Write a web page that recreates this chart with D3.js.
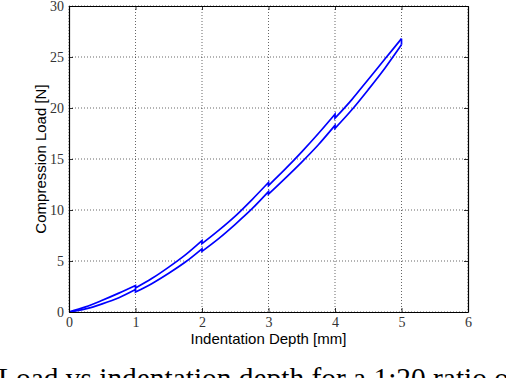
<!DOCTYPE html>
<html><head><meta charset="utf-8">
<script src="https://cdn.jsdelivr.net/npm/d3@7"></script>
<style>body{margin:0;background:#fff;overflow:hidden}svg{display:block}</style>
</head><body>
<svg id="c" width="506" height="378"></svg>
<script>
// Data; a repeated x marks a vertical relaxation step
const loadX = [0,0.25,0.5,0.75,1, 1,1.25,1.5,1.75,2, 2,2.25,2.5,2.75,3, 3,3.25,3.5,3.75,4, 4,4.25,4.5,4.75,5];
const loadY = [0,0.5,1.15,1.85,2.6, 2.35,3.3,4.4,5.6,7.0, 6.7,8.0,9.4,11.0,12.7, 12.4,14.0,15.7,17.5,19.4, 19.0,20.8,22.8,24.8,26.8];
const unloadX = [0,0.25,0.5,0.75,1, 1,1.25,1.5,1.75,2, 2,2.25,2.5,2.75,3, 3,3.25,3.5,3.75,4, 4,4.25,4.5,4.75,5];
const unloadY = [0,0.3,0.8,1.4,2.2, 1.95,2.8,3.8,4.9,6.2, 5.95,7.2,8.6,10.1,11.8, 11.55,13.1,14.7,16.4,18.3, 18.0,19.8,21.8,23.9,26.2];
const xTicks = [0,1,2,3,4,5,6];
const yTicks = [0,5,10,15,20,25,30];
const xLabel = "Indentation Depth [mm]";
const yLabel = "Compression Load [N]";
const caption = "Load vs indentation depth for a 1:20 ratio of";

const svg = d3.select("#c");
const L = 69, R = 468, T = 6, B = 312;
const x = d3.scaleLinear().domain([0,6]).range([L,R]);
const y = d3.scaleLinear().domain([0,30]).range([B,T]);

// grid
const g = svg.append("g");
g.selectAll(".gx").data(xTicks).join("line")
  .attr("x1", d=>x(d)).attr("x2", d=>x(d)).attr("y1", T).attr("y2", B)
  .attr("stroke", "#000").attr("stroke-width", 0.6).attr("stroke-dasharray", "1,2");
g.selectAll(".gy").data(yTicks).join("line")
  .attr("y1", d=>y(d)).attr("y2", d=>y(d)).attr("x1", L).attr("x2", R)
  .attr("stroke", "#000").attr("stroke-width", 0.6).attr("stroke-dasharray", "1,2");

// curves: split into smooth pieces at repeated x, joined by vertical steps
const smooth = d3.line().x(d=>x(d[0])).y(d=>y(d[1])).curve(d3.curveMonotoneX);
function pieces(xs, ys){
  const out = []; let cur = [];
  xs.forEach((v,i)=>{
    if (cur.length && v === cur[cur.length-1][0]) { out.push(cur); cur = []; }
    cur.push([v, ys[i]]);
  });
  if (cur.length) out.push(cur);
  return out;
}
function pathOf(xs, ys){
  return pieces(xs, ys).map((p,i)=>{
    const s = smooth(p);
    return i === 0 ? s : "L" + s.slice(1);
  }).join("");
}
const drawPath = d => svg.append("path").attr("d", d).attr("fill","none")
  .attr("stroke","#0000ff").attr("stroke-width",1.7).attr("stroke-linejoin","miter");
drawPath(pathOf(loadX, loadY));
drawPath(pathOf(unloadX, unloadY));
// turning point at maximum depth
drawPath(d3.line()([[x(loadX[loadX.length-1]), y(loadY[loadY.length-1])],
                    [x(unloadX[unloadX.length-1]), y(unloadY[unloadY.length-1])]]));

// axes with inward ticks
const tickFont = "'Liberation Serif', 'DejaVu Serif', serif";
const axB = svg.append("g").attr("transform",`translate(0,${B})`)
  .call(d3.axisBottom(x).tickValues(xTicks).tickSizeInner(-4).tickSizeOuter(0).tickPadding(5).tickFormat(d3.format("d")));
const axT = svg.append("g").attr("transform",`translate(0,${T})`)
  .call(d3.axisTop(x).tickValues(xTicks).tickSizeInner(-4).tickSizeOuter(0).tickFormat(""));
const axL = svg.append("g").attr("transform",`translate(${L},0)`)
  .call(d3.axisLeft(y).tickValues(yTicks).tickSizeInner(-4).tickSizeOuter(0).tickPadding(5).tickFormat(d3.format("d")));
const axR = svg.append("g").attr("transform",`translate(${R},0)`)
  .call(d3.axisRight(y).tickValues(yTicks).tickSizeInner(-4).tickSizeOuter(0).tickFormat(""));
[axB,axT,axL,axR].forEach(a=>{
  a.select(".domain").attr("stroke","#000").attr("stroke-width",1.2);
  a.selectAll(".tick line").attr("stroke","#000").attr("stroke-width",0.8);
  a.selectAll("text").attr("font-family",tickFont).attr("font-size",14).attr("fill","#333");
});

// labels
const sans = "'Liberation Sans', Arial, sans-serif";
svg.append("text").attr("x",(L+R)/2).attr("y",344).attr("text-anchor","middle")
  .attr("font-family",sans).attr("font-size",15).attr("fill","#000").text(xLabel);
svg.append("text").attr("transform",`translate(46,${(T+B)/2}) rotate(-90)`).attr("text-anchor","middle")
  .attr("font-family",sans).attr("font-size",15).attr("fill","#000").text(yLabel);

// caption (cut off by the bottom edge, as in the reference)
svg.append("text").attr("x",-2).attr("y",388).attr("font-family",tickFont)
  .attr("font-size",29.4).attr("fill","#000").text(caption);
</script>
</body></html>
